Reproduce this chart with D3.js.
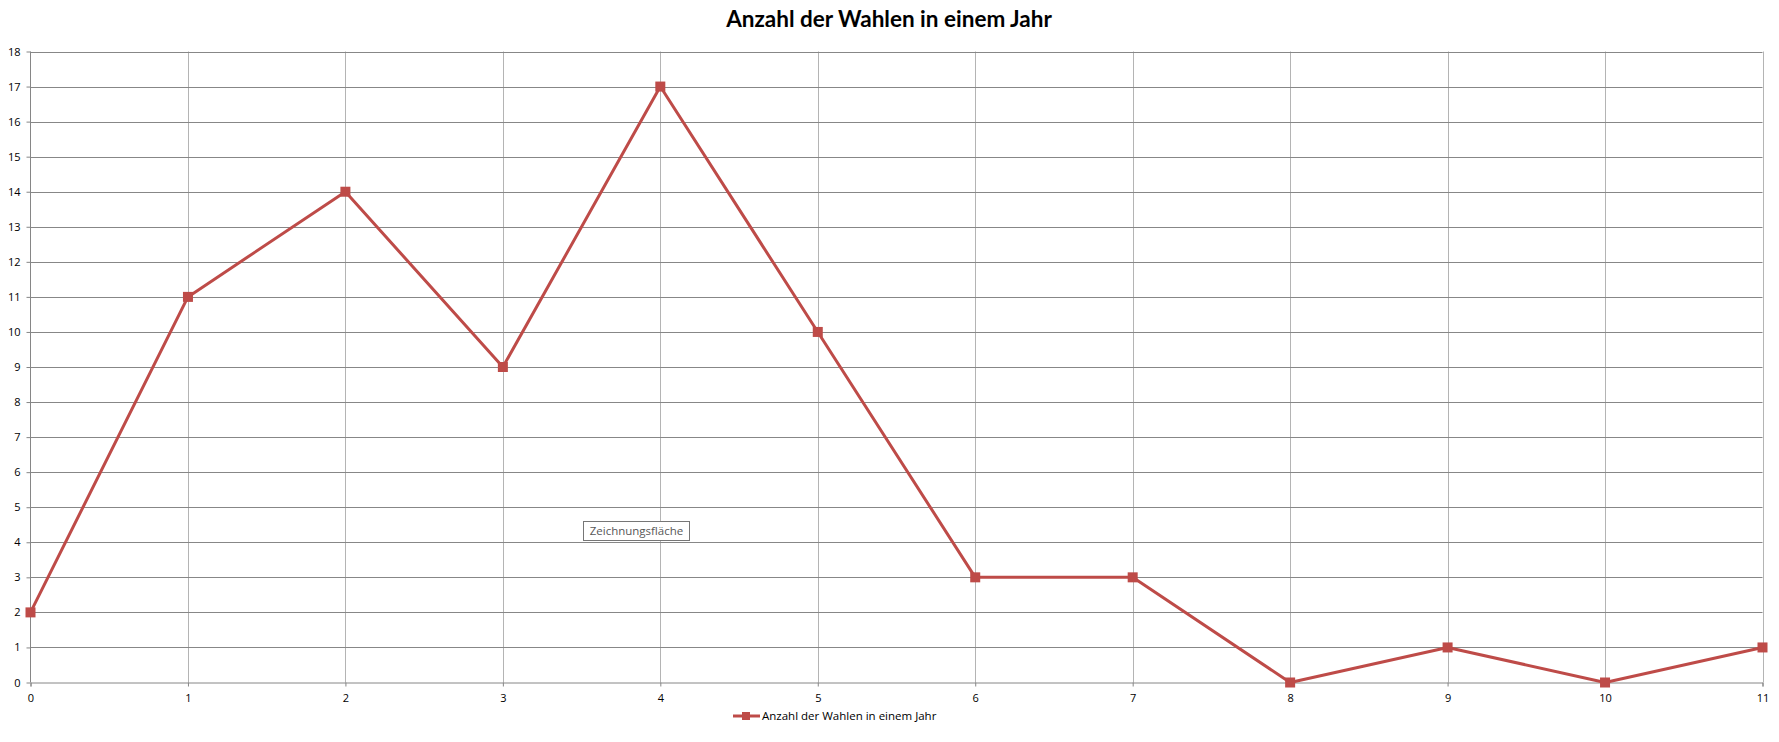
<!DOCTYPE html>
<html><head><meta charset="utf-8">
<script src="https://cdn.jsdelivr.net/npm/d3@7"></script>
<style>
html,body{margin:0;padding:0;background:#fff;}
svg{display:block;}
</style></head>
<body>
<svg id="c" width="1779" height="742"></svg>
<script>
const title = "Anzahl der Wahlen in einem Jahr";
const seriesName = "Anzahl der Wahlen in einem Jahr";
const categories = [0,1,2,3,4,5,6,7,8,9,10,11];
const values = [2,11,14,9,17,10,3,3,0,1,0,1];
const yTicks = [0,1,2,3,4,5,6,7,8,9,10,11,12,13,14,15,16,17,18];
const tooltipText = "Zeichnungsfläche";

const W = 1779, H = 742;
const m = {left: 30.5, right: 1779-1762.5, top: 51.5, bottom: 742-682.5};
const svg = d3.select("#c");
const x = d3.scaleLinear().domain([0, 11]).range([m.left, W - m.right]);
const y = d3.scaleLinear().domain([0, 18]).range([H - m.bottom, m.top]);
const color = "#BE4B48";
const font = "'Open Sans', 'DejaVu Sans', sans-serif";

// vertical grid
svg.append("g").selectAll("line").data(categories.slice(1)).join("line")
  .attr("x1", d => Math.round(x(d)) + 0.5).attr("x2", d => Math.round(x(d)) + 0.5)
  .attr("y1", y(18)).attr("y2", y(0))
  .attr("stroke", "#B4B4B4").attr("stroke-width", 1);
// horizontal grid
svg.append("g").selectAll("line").data(yTicks.slice(1)).join("line")
  .attr("x1", x(0)).attr("x2", x(11))
  .attr("y1", d => Math.round(y(d)) + 0.5).attr("y2", d => Math.round(y(d)) + 0.5)
  .attr("stroke", "#878787").attr("stroke-width", 1);

// axes
const yAxis = d3.axisLeft(y).tickValues(yTicks).tickSize(4).tickPadding(6).tickFormat(d3.format("d"));
const gy = svg.append("g").attr("transform", `translate(${m.left},0)`).call(yAxis);
const xAxis = d3.axisBottom(x).tickValues(categories).tickSize(4).tickPadding(8).tickFormat(d3.format("d"));
const gx = svg.append("g").attr("transform", `translate(0,${H - m.bottom})`).call(xAxis);
[gy, gx].forEach(g => {
  g.select(".domain").attr("stroke", "#868686");
  g.selectAll(".tick line").attr("stroke", "#868686");
  g.selectAll("text").attr("fill", "#000").style("font-family", font).style("font-size", "11px");
});
gy.select(".domain").attr("d", `M-0.0,${y(18)}V${y(0)}`);

// line
const line = d3.line().x((d, i) => x(categories[i])).y(d => y(d));
svg.append("path").datum(values).attr("d", line)
  .attr("fill", "none").attr("stroke", color).attr("stroke-width", 3).attr("stroke-linejoin", "round");
svg.append("g").selectAll("rect").data(values).join("rect")
  .attr("x", (d, i) => x(categories[i]) - 5).attr("y", d => y(d) - 5)
  .attr("width", 10).attr("height", 10).attr("fill", color);

// title
svg.append("text").attr("x", 889).attr("y", 27).attr("text-anchor", "middle")
  .style("font-family", "Lato, 'Open Sans', sans-serif").style("font-weight", "bold").style("font-size", "22.5px")
  .attr("fill", "#000").text(title);

// legend
const lg = svg.append("g");
lg.append("line").attr("x1", 733).attr("x2", 760).attr("y1", 716).attr("y2", 716)
  .attr("stroke", color).attr("stroke-width", 3);
lg.append("rect").attr("x", 742).attr("y", 712).attr("width", 8).attr("height", 8).attr("fill", color);
lg.append("text").attr("x", 762).attr("y", 720).style("font-family", font).style("font-size", "11.5px")
  .attr("fill", "#000").text(seriesName);

// tooltip box
const tt = svg.append("g");
tt.append("rect").attr("x", 583.5).attr("y", 521.5).attr("width", 106).attr("height", 19)
  .attr("fill", "#fff").attr("stroke", "#767676").attr("stroke-width", 1);
tt.append("text").attr("x", 636.5).attr("y", 535).attr("text-anchor", "middle")
  .style("font-family", font).style("font-size", "11.5px").attr("fill", "#575757").text(tooltipText);
</script>
</body></html>
